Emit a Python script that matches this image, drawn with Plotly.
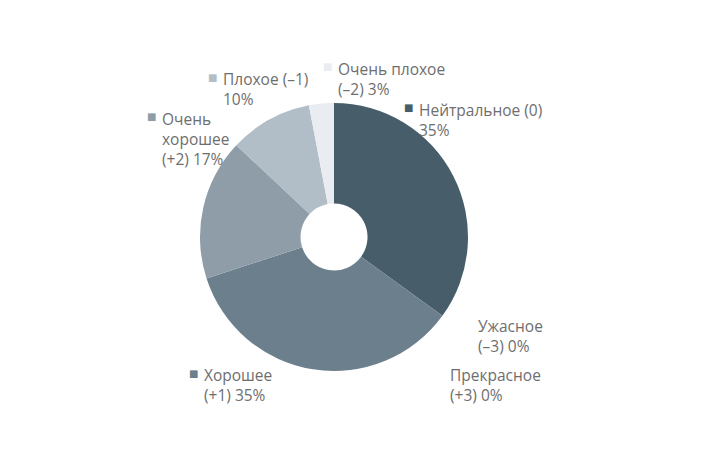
import plotly.graph_objects as go

# order = clockwise from 12 o'clock
labels = ["Нейтральное (0)", "Ужасное (–3)", "Прекрасное (+3)", "Хорошее (+1)",
          "Очень хорошее (+2)", "Плохое (–1)", "Очень плохое (–2)"]
values = [35, 0, 0, 35, 17, 10, 3]
label_lines = [
    ["Нейтральное (0)", "35%"],
    ["Ужасное", "(–3) 0%"],
    ["Прекрасное", "(+3) 0%"],
    ["Хорошее", "(+1) 35%"],
    ["Очень", "хорошее", "(+2) 17%"],
    ["Плохое (–1)", "10%"],
    ["Очень плохое", "(–2) 3%"],
]
colors = ["#475e6a", "#ffffff", "#ffffff", "#6b7f8c", "#8e9da8", "#b2bec7", "#e9ecf0"]

W, H = 710, 473
OFF = 8  # page body margin
# (text left x, first line cap top y) in window pixels
label_pos = [(420, 103), (479, 319), (451, 368), (205, 368), (163, 112), (224, 72), (339, 62)]


def px(x):
    return (x - OFF) / W


def py(y):
    return 1 - (y - OFF) / H


fig = go.Figure(
    go.Pie(
        labels=labels,
        values=values,
        hole=0.25,
        sort=False,
        direction="clockwise",
        rotation=0,
        marker=dict(colors=colors, line=dict(width=0)),
        textinfo="none",
        hoverinfo="label+percent",
        showlegend=False,
        domain=dict(x=[px(200), px(468)], y=[py(371), py(103)]),
    )
)

font = dict(family="Open Sans", size=15.5, color="#6e6e6e")
for lines, col, (x0, y0) in zip(label_lines, colors, label_pos):
    fig.add_annotation(
        x=px(x0 - 3), y=py(y0 - 6), xref="paper", yref="paper",
        xanchor="left", yanchor="top", align="left", showarrow=False,
        text="<br>".join(lines), font=font,
    )
    fig.add_annotation(
        x=px(x0 - 5), y=py(y0 + 5), xref="paper", yref="paper",
        xanchor="right", yanchor="middle", showarrow=False,
        text="■", font=dict(family="DejaVu Sans", size=10, color=col),
    )

fig.update_layout(
    width=W,
    height=H,
    margin=dict(l=0, r=0, t=0, b=0),
    paper_bgcolor="white",
    plot_bgcolor="white",
)

fig.write_html("out.html")
